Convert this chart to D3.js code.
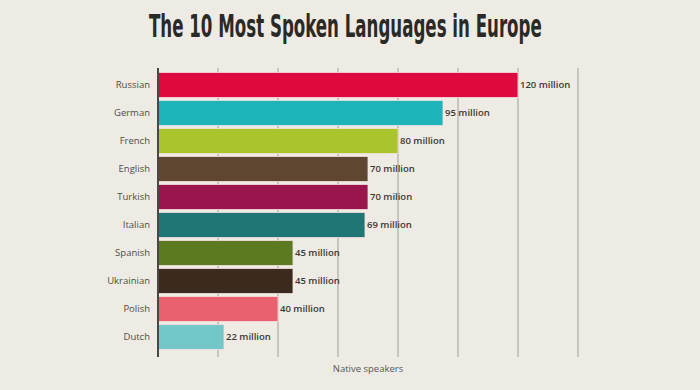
<!DOCTYPE html>
<html>
<head>
<meta charset="utf-8">
<script src="https://cdn.jsdelivr.net/npm/d3@7"></script>
<style>
  html, body { margin: 0; padding: 0; background: #edebe4; }
  svg { display: block; }
</style>
</head>
<body>
<div id="container"></div>
<script>
// chart data
const languages = ["Russian", "German", "French", "English", "Turkish", "Italian", "Spanish", "Ukrainian", "Polish", "Dutch"];
const speakers = [120, 95, 80, 70, 70, 69, 45, 45, 40, 22];
const valueLabels = ["120 million", "95 million", "80 million", "70 million", "70 milion", "69 million", "45 million", "45 million", "40 million", "22 million"];
const barColors = ["#e0093f", "#1cb4b6", "#aac42b", "#5f4631", "#99154b", "#1f7675", "#5c7a1f", "#3b2b1f", "#e9616f", "#73c7c9"];
const xTicks = [0, 20, 40, 60, 80, 100, 120, 140];

const width = 700;
const height = 390;
const marginTop = 71;
const marginBottom = 39;
const marginLeft = 158;
const plotRight = 578;

const data = languages.map((name, i) => ({name, value: speakers[i], label: valueLabels[i], color: barColors[i]}));

// Declare the x (horizontal position) scale.
const x = d3.scaleLinear()
    .domain([0, 140])
    .range([marginLeft, plotRight]);

// Declare the y (band) scale.
const y = d3.scaleBand()
    .domain(languages)
    .range([marginTop, height - marginBottom])
    .paddingInner(0.1)
    .paddingOuter(0.05);

const svg = d3.create("svg")
    .attr("width", width)
    .attr("height", height)
    .attr("viewBox", [0, 0, width, height]);

// append early so text can be measured
container.append(svg.node());

svg.append("rect")
    .attr("width", width)
    .attr("height", height)
    .attr("fill", "#edebe4");

// Title - squeezed horizontally to look like a condensed display face
const title = svg.append("text")
    .attr("font-family", "'Liberation Sans Narrow', 'DejaVu Sans Condensed', 'Roboto', sans-serif")
    .attr("font-weight", "bold")
    .attr("font-size", 32)
    .attr("fill", "#2b2926")
    .text("The 10 Most Spoken Languages in Europe");
const titleW = title.node().getComputedTextLength();
title.attr("transform", `translate(149,37) scale(${393 / titleW},1)`);

// vertical gridlines
const gridTop = 68;
const gridBottom = 357;
svg.append("g")
  .selectAll("line")
  .data(xTicks.slice(1))
  .join("line")
    .attr("x1", d => x(d))
    .attr("x2", d => x(d))
    .attr("y1", gridTop)
    .attr("y2", gridBottom)
    .attr("stroke", "#b9b7b1")
    .attr("stroke-width", 1.5);

// bars
svg.append("g")
  .selectAll("rect")
  .data(data)
  .join("rect")
    .attr("x", x(0))
    .attr("y", d => y(d.name))
    .attr("width", d => x(d.value) - x(0))
    .attr("height", y.bandwidth())
    .attr("fill", d => d.color)
    .attr("stroke", "#f7e4e4")
    .attr("stroke-width", 0.8);

// axis line on the left
svg.append("line")
    .attr("x1", x(0))
    .attr("x2", x(0))
    .attr("y1", gridTop)
    .attr("y2", gridBottom)
    .attr("stroke", "#4a4744")
    .attr("stroke-width", 2);

// category labels
svg.append("g")
  .selectAll("text")
  .data(data)
  .join("text")
    .attr("x", 150)
    .attr("y", d => y(d.name) + y.bandwidth() / 2)
    .attr("dy", "0.35em")
    .attr("text-anchor", "end")
    .attr("font-family", "'Open Sans', 'DejaVu Sans', sans-serif")
    .attr("font-size", 9.5)
    .attr("fill", "#4f4c48")
    .text(d => d.name);

// value labels
svg.append("g")
  .selectAll("text")
  .data(data)
  .join("text")
    .attr("x", d => x(d.value) + 2)
    .attr("y", d => y(d.name) + y.bandwidth() / 2)
    .attr("dy", "0.35em")
    .attr("font-family", "'Open Sans', 'DejaVu Sans', sans-serif")
    .attr("font-size", 9.5)
    .attr("font-weight", 600)
    .attr("fill", "#3a3835")
    .text(d => d.label);

// x axis title
svg.append("text")
    .attr("x", 368)
    .attr("y", 369)
    .attr("dy", "0.35em")
    .attr("text-anchor", "middle")
    .attr("font-family", "'Open Sans', 'DejaVu Sans', sans-serif")
    .attr("font-size", 9.5)
    .attr("fill", "#5a5753")
    .text("Native speakers");
</script>
</body>
</html>
